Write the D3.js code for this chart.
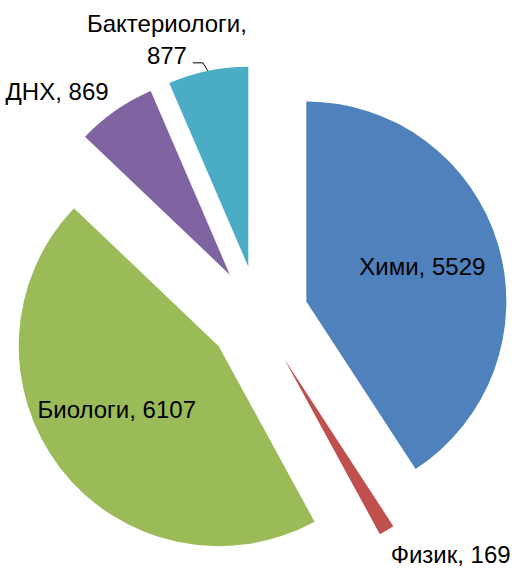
<!DOCTYPE html>
<html>
<head>
<meta charset="utf-8">
<script src="https://cdn.jsdelivr.net/npm/d3@7"></script>
<style>
    body { margin: 0; background: #fff; }
    svg { display: block; }
    text { font-family: 'Liberation Sans', Arial, sans-serif; font-size: 24px; fill: #000; }
</style>
</head>
<body>
<svg id="chart" width="516" height="568"></svg>
<script>
    // data
    const categories = ["Хими", "Физик", "Биологи", "ДНХ", "Бактериологи"];
    const values = [5529, 169, 6107, 869, 877];
    const colors = ["#4F81BD", "#C0504D", "#9BBB59", "#8064A2", "#4BACC6"];

    // layout
    const width = 516, height = 568;
    const cx = 258.4, cy = 315.7;
    const radius = 200;
    const explode = 50;

    // label placement: inside labels sit on an inner radius, outside ones hang off the arc
    const labelSpec = [
        { mode: "in", r: 121, dx: 0, dy: 0, anchor: "middle" },
        { mode: "out", dx: 4, dy: 33, anchor: "start" },
        { mode: "in", r: 121, dx: -6, dy: -10, anchor: "middle" },
        { mode: "out", dx: -7, dy: -11, anchor: "end" },
        { mode: "out", dx: -41, dy: -7, anchor: "middle", wrap: true, leader: true }
    ];

    const svg = d3.select("#chart");

    const pie = d3.pie().sort(null).value(d => d.value);
    const arcs = pie(categories.map((c, i) => ({ name: c, value: values[i], i: i })));

    const arc = d3.arc().innerRadius(0).outerRadius(radius);

    // unit vector for the slice bisector (d3 angles: 0 at 12 o'clock, clockwise)
    const dir = a => [Math.sin(a), -Math.cos(a)];

    const g = svg.append("g").attr("transform", `translate(${cx},${cy})`);

    const slice = g.selectAll("g.slice")
        .data(arcs)
        .enter()
        .append("g")
        .attr("class", "slice")
        .attr("transform", d => {
            let u = dir((d.startAngle + d.endAngle) / 2);
            return `translate(${u[0] * explode},${u[1] * explode})`;
        });

    slice.append("path")
        .attr("d", arc)
        .attr("fill", (d, i) => colors[i]);

    slice.each(function (d, i) {
        let spec = labelSpec[i];
        let sel = d3.select(this);
        let mid = (d.startAngle + d.endAngle) / 2;
        let u = dir(mid);
        let x, y;
        if (spec.mode === "in") {
            x = u[0] * spec.r + spec.dx;
            y = u[1] * spec.r + spec.dy;
        } else {
            x = u[0] * radius + spec.dx;
            y = u[1] * radius + spec.dy;
        }

        if (spec.leader) {
            let ox = u[0] * radius, oy = u[1] * radius;
            sel.append("path")
                .attr("d", `M${ox},${oy}L${ox - 5},${oy - 8}L${ox - 15},${oy - 8}`)
                .attr("fill", "none")
                .attr("stroke", "#000")
                .attr("stroke-width", 1);
        }

        let t = sel.append("text")
            .attr("text-anchor", spec.anchor)
            .attr("x", x)
            .attr("y", y);

        if (spec.wrap) {
            t.append("tspan").attr("x", x).attr("dy", -32).text(d.data.name + ",");
            t.append("tspan").attr("x", x).attr("dy", 32).text(d.data.value);
        } else {
            t.attr("dy", spec.mode === "in" ? "0.35em" : 0)
                .text(d.data.name + ", " + d.data.value);
        }
    });
</script>
</body>
</html>
